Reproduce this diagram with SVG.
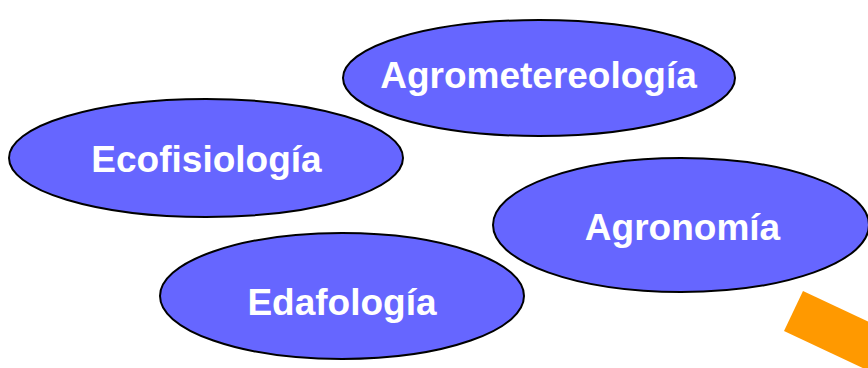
<svg xmlns="http://www.w3.org/2000/svg" width="868" height="368" viewBox="0 0 868 368">
<style>
.n{fill:#6666FF;stroke:#000;stroke-width:2}
.t{font-family:"Liberation Sans",Arial,sans-serif;font-weight:bold;font-size:37px;fill:#fff;text-anchor:middle}
</style>
<rect width="868" height="368" fill="#fff"/>
<g id="agrometereologia"><ellipse class="n" cx="539" cy="78" rx="196" ry="58"/><text class="t" x="538.5" y="88">Agrometereología</text></g>
<g id="ecofisiologia"><ellipse class="n" cx="206" cy="158" rx="197" ry="59"/><text class="t" x="206.5" y="172">Ecofisiología</text></g>
<g id="agronomia"><ellipse class="n" cx="681" cy="225" rx="188" ry="67"/><text class="t" x="682.5" y="240">Agronomía</text></g>
<g id="edafologia"><ellipse class="n" cx="342" cy="296" rx="182" ry="63"/><text class="t" x="342" y="315">Edafología</text></g>
<polygon points="803,291 784,331 965,416 984,376" fill="#FF9900"/>
<g id="connectors"></g>
</svg>
